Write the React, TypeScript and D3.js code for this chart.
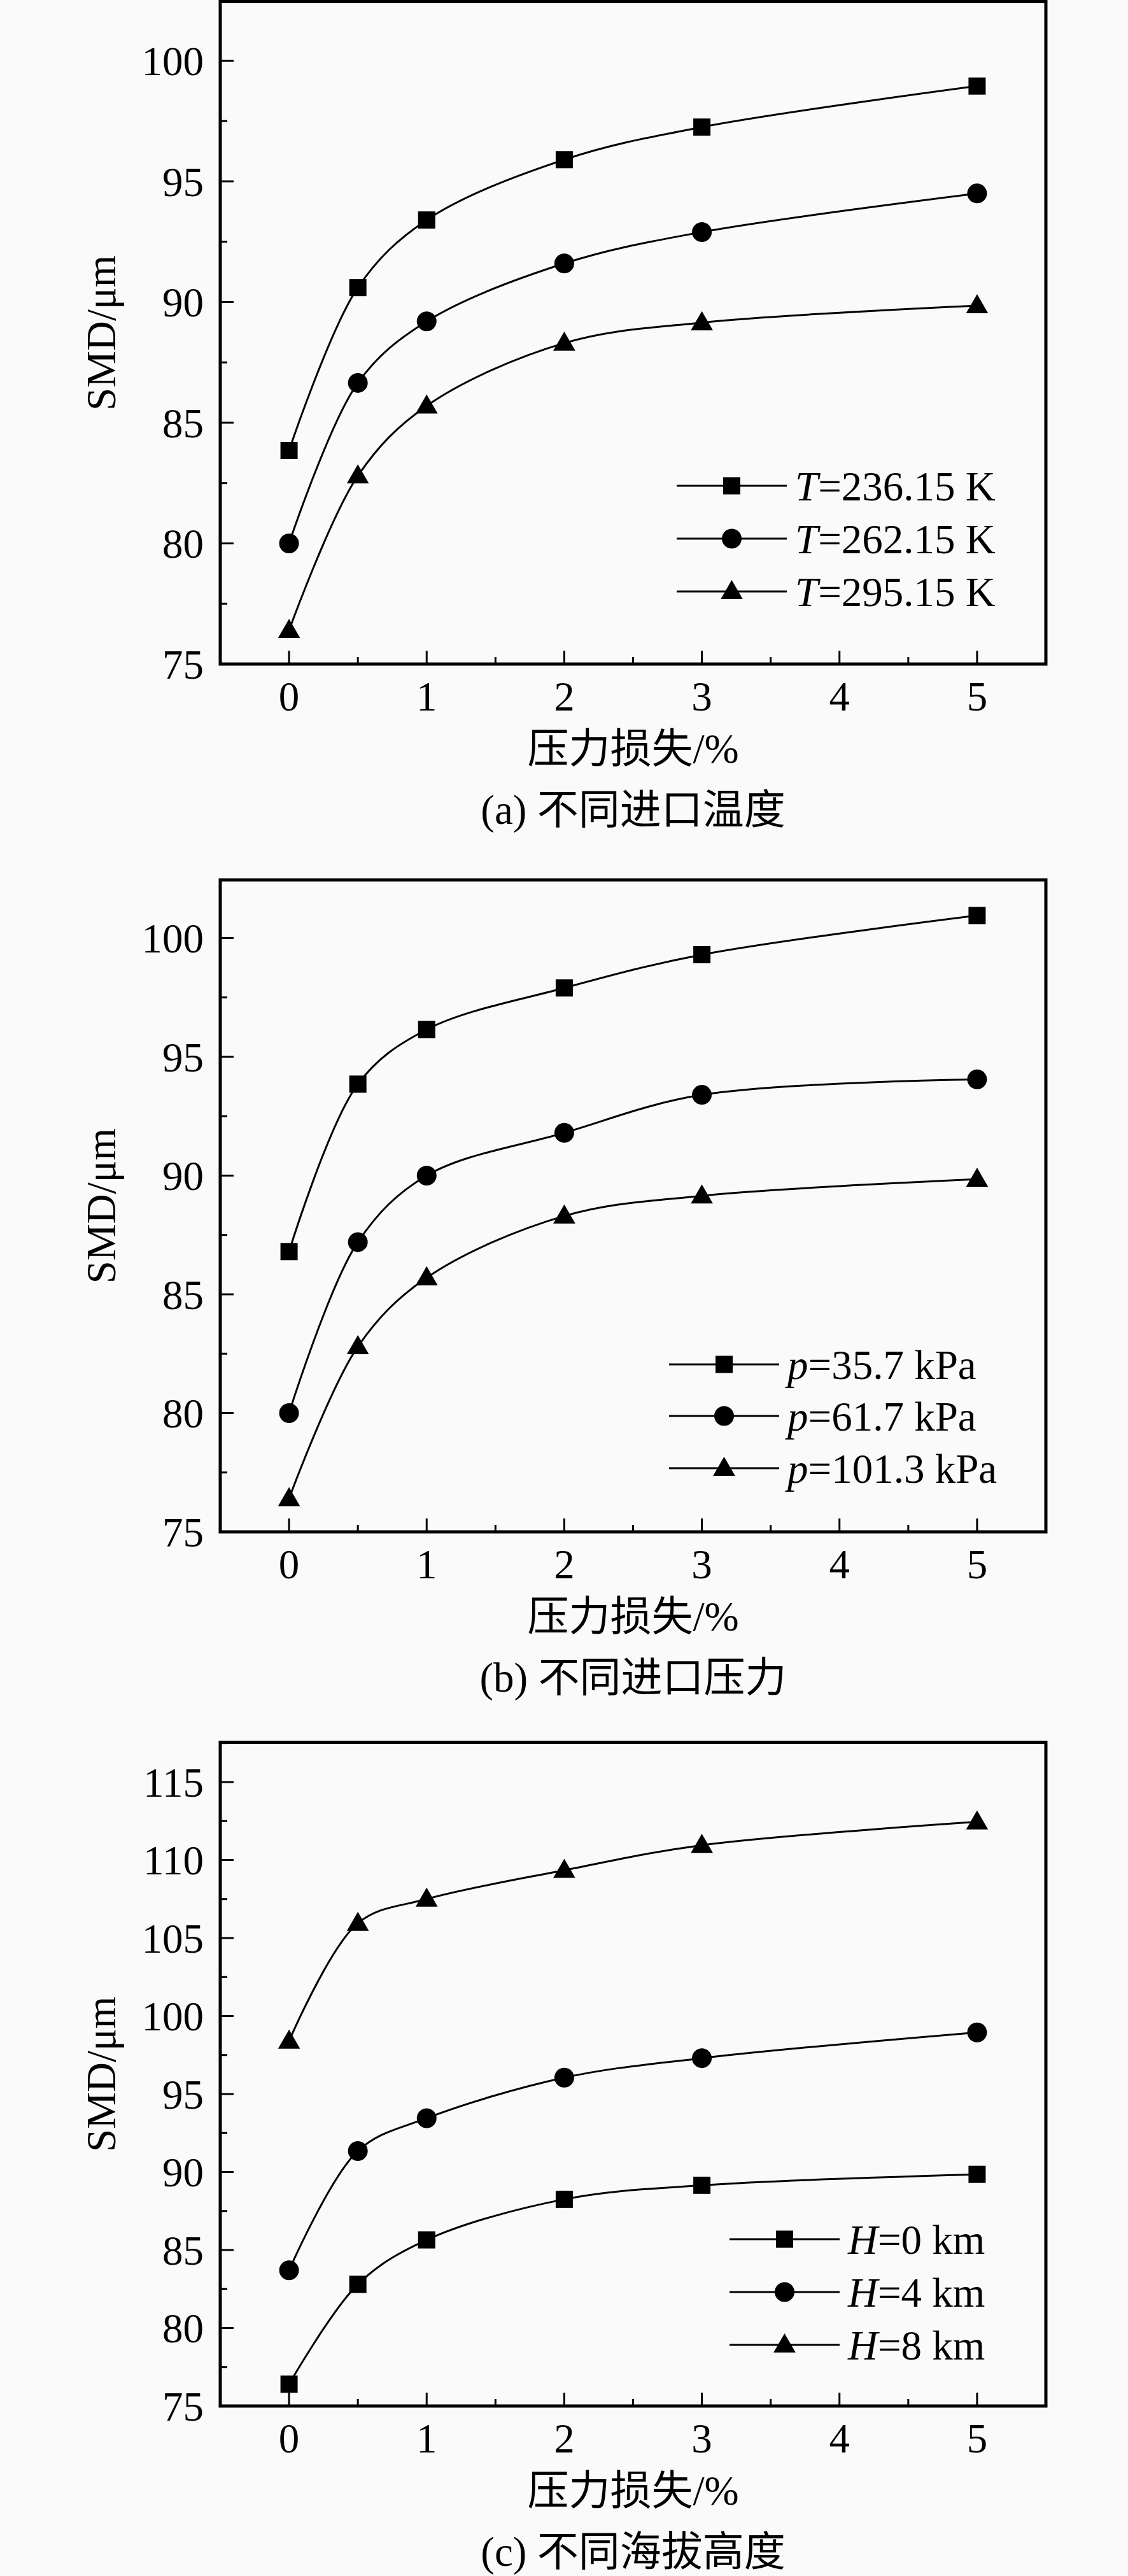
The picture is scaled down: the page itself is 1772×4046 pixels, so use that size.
import React from "react";
import * as d3 from "d3";

// ---------- data ----------
const pressureLoss = [0, 0.5, 1, 2, 3, 5];
const xTicks = [0, 1, 2, 3, 4, 5];

// (a) inlet temperature
const smdT236 = [83.85, 90.6, 93.4, 95.9, 97.25, 98.95];
const smdT262 = [80.0, 86.65, 89.2, 91.6, 92.9, 94.5];
const smdT295 = [76.4, 82.8, 85.7, 88.3, 89.15, 89.85];
// (b) inlet pressure
const smdP35 = [86.8, 93.85, 96.15, 97.9, 99.3, 100.95];
const smdP61 = [80.0, 87.2, 90.0, 91.8, 93.4, 94.05];
const smdP101 = [76.4, 82.8, 85.7, 88.3, 89.15, 89.85];
// (c) altitude
const smdH0 = [76.4, 82.8, 85.65, 88.25, 89.15, 89.85];
const smdH4 = [83.7, 91.35, 93.45, 96.05, 97.3, 98.95];
const smdH8 = [98.4, 105.95, 107.5, 109.35, 110.95, 112.45];

const yTicksAB = [75, 80, 85, 90, 95, 100];
const yTicksC = [75, 80, 85, 90, 95, 100, 105, 110, 115];

const legendA = [
  { v: "T", rest: "=236.15 K" },
  { v: "T", rest: "=262.15 K" },
  { v: "T", rest: "=295.15 K" },
];
const legendB = [
  { v: "p", rest: "=35.7 kPa" },
  { v: "p", rest: "=61.7 kPa" },
  { v: "p", rest: "=101.3 kPa" },
];
const legendC = [
  { v: "H", rest: "=0 km" },
  { v: "H", rest: "=4 km" },
  { v: "H", rest: "=8 km" },
];

const captions = ["(a) 不同进口温度", "(b) 不同进口压力", "(c) 不同海拔高度"];
const xTitle = "压力损失/%";
const yTitle = "SMD/μm";

const shapes = ["square", "circle", "triangle"];

// ---------- layout ----------
const W = 1772;
const H = 4046;
const LEFT = 346;
const RIGHT = 1643;
const FS = 65;
const SERIF = "'Liberation Serif', 'Times New Roman', serif";
const CJK = "'Liberation Serif', 'Noto Sans CJK SC', sans-serif";

const panels = [
  {
    top: 2.5, bottom: 1043, yDomain: [75, 102.45], yTicks: yTicksAB,
    series: [smdT236, smdT262, smdT295], legend: legendA,
    legendX: 1063, legendRows: [763, 846, 929],
  },
  {
    top: 1382, bottom: 2406, yDomain: [75, 102.45], yTicks: yTicksAB,
    series: [smdP35, smdP61, smdP101], legend: legendB,
    legendX: 1051, legendRows: [2143, 2224, 2306],
  },
  {
    top: 2736.5, bottom: 3779, yDomain: [75, 117.55], yTicks: yTicksC,
    series: [smdH0, smdH4, smdH8], legend: legendC,
    legendX: 1146, legendRows: [3517, 3600, 3683],
  },
];

const symbolPath = (shape: string) => {
  if (shape === "square") return d3.symbol(d3.symbolSquare, 27 * 27)()!;
  if (shape === "circle") return d3.symbol(d3.symbolCircle, Math.PI * 15.5 * 15.5)()!;
  return d3.symbol(d3.symbolTriangle, 520)()!;
};

function Marker({ shape, x, y }: { shape: string; x: number; y: number }) {
  const dy = shape === "triangle" ? 2 : 0;
  return <path d={symbolPath(shape)} transform={`translate(${x},${y + dy})`} fill="#000" />;
}

function Panel({ p, idx }: { p: any; idx: number }) {
  const x = d3.scaleLinear().domain([-0.5, 5.5]).range([LEFT, RIGHT]);
  const y = d3.scaleLinear().domain(p.yDomain).range([p.bottom, p.top]);
  const line = d3
    .line<number>()
    .x((_, i) => x(pressureLoss[i]))
    .y((d) => y(d))
    .curve(d3.curveCatmullRom.alpha(0.5));

  const xMinor = d3.range(0.5, 5.5, 1);
  const yMinor = d3.range(p.yDomain[0] + 2.5, p.yDomain[1], 5);
  const midY = (p.top + p.bottom) / 2;
  const midX = (LEFT + RIGHT) / 2;

  return (
    <g>
      {/* ticks */}
      {xTicks.map((t) => (
        <line key={"xt" + t} x1={x(t)} x2={x(t)} y1={p.bottom} y2={p.bottom - 21} stroke="#000" strokeWidth={3} />
      ))}
      {xMinor.map((t) => (
        <line key={"xm" + t} x1={x(t)} x2={x(t)} y1={p.bottom} y2={p.bottom - 11} stroke="#000" strokeWidth={3} />
      ))}
      {p.yTicks.map((t: number) => (
        <line key={"yt" + t} x1={LEFT} x2={LEFT + 21} y1={y(t)} y2={y(t)} stroke="#000" strokeWidth={3} />
      ))}
      {yMinor.map((t: number) => (
        <line key={"ym" + t} x1={LEFT} x2={LEFT + 11} y1={y(t)} y2={y(t)} stroke="#000" strokeWidth={3} />
      ))}
      {/* frame */}
      <rect x={LEFT} y={p.top} width={RIGHT - LEFT} height={p.bottom - p.top} fill="none" stroke="#000" strokeWidth={5} />

      {/* tick labels */}
      {xTicks.map((t) => (
        <text key={"xl" + t} x={x(t)} y={p.bottom + 50} dy="0.35em" textAnchor="middle" fontFamily={SERIF} fontSize={FS}>
          {t}
        </text>
      ))}
      {p.yTicks.map((t: number) => (
        <text key={"yl" + t} x={320} y={y(t)} dy="0.35em" textAnchor="end" fontFamily={SERIF} fontSize={FS}>
          {t}
        </text>
      ))}

      {/* axis titles */}
      <text x={158} y={midY} dy="0.35em" textAnchor="middle" fontFamily={SERIF} fontSize={FS} transform={`rotate(-90,158,${midY})`}>
        {yTitle}
      </text>
      <text x={midX} y={p.bottom + 132} dy="0.35em" textAnchor="middle" fontFamily={CJK} fontSize={FS}>
        {xTitle}
      </text>
      <text x={midX} y={p.bottom + 228} dy="0.35em" textAnchor="middle" fontFamily={CJK} fontSize={FS}>
        {captions[idx]}
      </text>

      {/* series */}
      {p.series.map((s: number[], si: number) => (
        <g key={"s" + si}>
          <path d={line(s)!} fill="none" stroke="#000" strokeWidth={3} />
          {s.map((v, i) => (
            <Marker key={i} shape={shapes[si]} x={x(pressureLoss[i])} y={y(v)} />
          ))}
        </g>
      ))}

      {/* legend */}
      {p.legend.map((l: any, li: number) => {
        const ry = p.legendRows[li];
        return (
          <g key={"lg" + li}>
            <line x1={p.legendX} x2={p.legendX + 173} y1={ry} y2={ry} stroke="#000" strokeWidth={3} />
            <Marker shape={shapes[li]} x={p.legendX + 86.5} y={ry} />
            <text x={p.legendX + 186} y={ry} dy="0.35em" fontFamily={SERIF} fontSize={FS}>
              <tspan fontStyle="italic">{l.v}</tspan>
              <tspan>{l.rest}</tspan>
            </text>
          </g>
        );
      })}
    </g>
  );
}

export default function App() {
  return (
    <svg
      width={W}
      height={H}
      viewBox={`0 0 ${W} ${H}`}
      style={{ position: "absolute", left: 0, top: 0, background: "#fafafa" }}
    >
      <rect x={0} y={0} width={W} height={H} fill="#fafafa" />
      {panels.map((p, i) => (
        <Panel key={i} p={p} idx={i} />
      ))}
    </svg>
  );
}
